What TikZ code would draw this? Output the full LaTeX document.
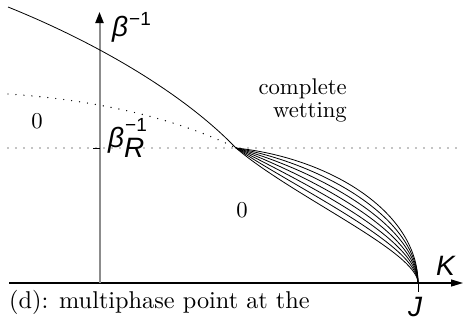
\documentclass[tikz,border=0pt]{standalone}
\usepackage{fontspec}
\newfontfamily\labelsf{Liberation Sans}
\newfontfamily\romanten{lmroman10-regular.otf}
\usetikzlibrary{arrows.meta}

\newcommand{\capsize}{\romanten\fontsize{22.7}{23}\selectfont}
\newcommand{\supsize}{\fontsize{19}{19}\selectfont}

\begin{document}
\begin{tikzpicture}[x=1pt, y=-1pt,
  axis/.style={line width=1.2pt, -{Triangle[length=12pt,width=7pt]}},
  vaxis/.style={line width=2pt, draw=black!45,
                -{Triangle[length=11pt,width=8pt,color=black]}},
  phase/.style={line width=0.8pt},
  dotline/.style={line width=1.4pt, line cap=round, dash pattern=on 0pt off 8pt},
  roman/.style={font=\capsize, inner sep=0pt},
  sflabel/.style={font=\labelsf\fontsize{28}{28}\selectfont\itshape, inner sep=0pt},
]
\useasboundingbox (0,0) rectangle (464,322);

% axes
\coordinate (orig) at (99.5,283);
\coordinate (xstart) at (9,283);
\coordinate (xtip) at (463,283);
\coordinate (ytip) at (99.5,12);
\coordinate (jpt) at (418,283);
\coordinate (pm) at (236,148);
\coordinate (rtick) at (99.5,148);

\draw[axis] (xstart) -- (xtip);
\draw[vaxis] (orig) -- (ytip);
\draw[line width=1pt] (rtick) -- ++(-7,0);
\draw[line width=1pt] (jpt) -- ++(0,9);

% phase boundaries
\coordinate (topstart) at (8,7);
\coordinate (dotstart) at (8,94);
\coordinate (dotleft) at (8,148);
\coordinate (dotright) at (462,148);

\draw[phase] (topstart) .. controls (90,40) and (180,90) .. (pm);
\draw[dotline] (dotstart) .. controls (100,100) and (180,120) .. (pm);
\draw[dotline] (dotleft) -- (dotright);

\foreach \i in {0,...,6}{
  \pgfmathsetmacro{\ax}{330-38*\i/6}
  \pgfmathsetmacro{\ay}{158+38*\i/6}
  \pgfmathsetmacro{\by}{212+40*\i/6}
  \draw[phase] (pm) .. controls (\ax,\ay) and (418,\by) .. (jpt);
}

% labels
\node[sflabel, anchor=base west] (betalab) at (112,36)
  {β\kern1pt\raisebox{11pt}{\upshape\supsize −1}};
\node[sflabel, anchor=base west] (betaRlab) at (108,147)
  {β\rlap{\kern1pt\raisebox{16pt}{\upshape\supsize −1}}\raisebox{-10pt}{R}};
\node[sflabel, anchor=base west] (Klab) at (436,275) {K};
\node[sflabel, anchor=base west] (Jlab) at (408,316) {J};

\node[roman, anchor=base] (zeroleft) at (37,128) {0};
\node[roman, anchor=base] (zeromid) at (242,217) {0};
\node[roman, anchor=south east, align=right] (wetlab) at (347,122)
  {complete\\wetting};
\node[roman, font=\romanten\fontsize{24.3}{24}\selectfont, anchor=base west]
  (caption) at (9,308) {(d): multiphase point at the};

\end{tikzpicture}
\end{document}
